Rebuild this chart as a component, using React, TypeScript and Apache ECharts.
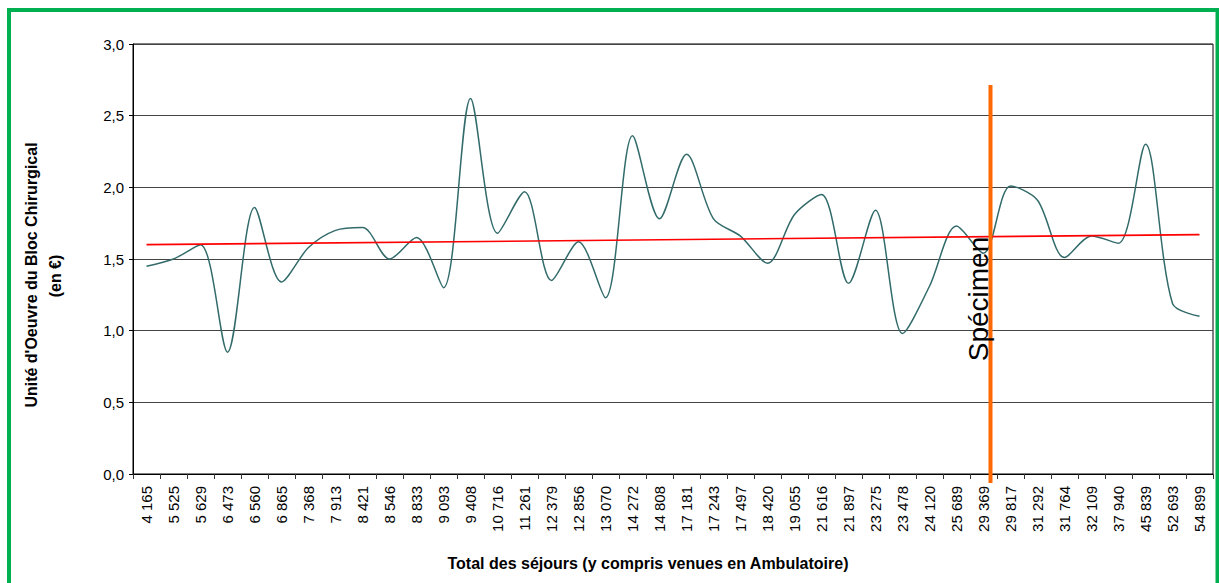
import React, { useEffect, useRef } from "react";
import * as echarts from "echarts";

const categories = [
  "4 165", "5 525", "5 629", "6 473", "6 560", "6 865", "7 368", "7 913", "8 421", "8 546",
  "8 833", "9 093", "9 408", "10 716", "11 261", "12 379", "12 856", "13 070", "14 272", "14 808",
  "17 181", "17 243", "17 497", "18 420", "19 055", "21 616", "21 897", "23 275", "23 478", "24 120",
  "25 689", "29 369", "29 817", "31 292", "31 764", "32 109", "37 940", "45 839", "52 693", "54 899",
];

const uoValues = [
  1.45, 1.5, 1.6, 0.85, 1.86, 1.34, 1.58, 1.7, 1.72, 1.5,
  1.65, 1.3, 2.62, 1.68, 1.97, 1.35, 1.62, 1.23, 2.36, 1.78,
  2.23, 1.78, 1.66, 1.47, 1.81, 1.95, 1.33, 1.84, 0.98, 1.31,
  1.73, 1.54, 2.01, 1.91, 1.51, 1.66, 1.61, 2.3, 1.19, 1.1,
];

const trendStart = 1.6;
const trendEnd = 1.67;

const yTicks = { min: 0, max: 3, interval: 0.5 };

const FONT = "'Liberation Sans', Arial, sans-serif";

export default function App() {
  const ref = useRef<HTMLDivElement>(null);
  useEffect(() => {
    if (!ref.current) return;
    const chart = echarts.init(ref.current, undefined, { renderer: "svg" });
    chart.setOption({
      animation: false,
      backgroundColor: "#ffffff",
      textStyle: { fontFamily: FONT },
      grid: {
        left: 133,
        top: 44,
        right: 6,
        bottom: 109,
        show: true,
        borderColor: "#000",
        borderWidth: 1,
        backgroundColor: "transparent",
      },
      xAxis: {
        type: "category",
        data: categories,
        boundaryGap: true,
        axisLine: { lineStyle: { color: "#000", width: 1 } },
        axisTick: { show: true, interval: 0, length: 5, lineStyle: { color: "#333" } },
        axisLabel: {
          interval: 0,
          rotate: 90,
          margin: 12,
          fontSize: 15,
          color: "#000",
          fontFamily: FONT,
        },
        splitLine: { show: false },
      },
      yAxis: {
        type: "value",
        min: yTicks.min,
        max: yTicks.max,
        interval: yTicks.interval,
        axisLine: { show: true, lineStyle: { color: "#000", width: 1 } },
        axisTick: { show: true, length: 4, lineStyle: { color: "#000" } },
        axisLabel: {
          fontSize: 15,
          color: "#000",
          margin: 9,
          fontFamily: FONT,
          formatter: (v: number) => v.toFixed(1).replace(".", ","),
        },
        splitLine: { show: true, lineStyle: { color: "#444", width: 1 } },
      },
      series: [
        {
          type: "line",
          data: uoValues,
          smooth: 0.3,
          showSymbol: false,
          symbol: "none",
          lineStyle: { color: "#336b6b", width: 1.5 },
          z: 3,
        },
        {
          type: "line",
          data: [
            [categories[0], trendStart],
            [categories[categories.length - 1], trendEnd],
          ],
          showSymbol: false,
          symbol: "none",
          lineStyle: { color: "#ff0000", width: 1.6 },
          z: 4,
        },
      ],
      graphic: [
        {
          type: "rect",
          shape: { x: 9, y: 10, width: 1208.5, height: 700 },
          style: { fill: "none", stroke: "#00b050", lineWidth: 4 },
          z: 100,
        },
        {
          type: "line",
          shape: { x1: 990.5, y1: 85, x2: 990.5, y2: 483 },
          style: { stroke: "#ff6a00", lineWidth: 4 },
          z: 50,
        },
        {
          type: "text",
          x: 978.5,
          y: 299,
          rotation: Math.PI / 2,
          style: {
            text: "Spécimen",
            fontSize: 28,
            fontFamily: FONT,
            fill: "#000",
            align: "center",
            verticalAlign: "middle",
          },
          z: 51,
        },
        {
          type: "text",
          x: 31,
          y: 275,
          rotation: Math.PI / 2,
          style: {
            text: "Unité d'Oeuvre du Bloc Chirurgical",
            fontSize: 16,
            fontWeight: "bold",
            fontFamily: FONT,
            fill: "#000",
            align: "center",
            verticalAlign: "middle",
          },
        },
        {
          type: "text",
          x: 55,
          y: 276,
          rotation: Math.PI / 2,
          style: {
            text: "(en €)",
            fontSize: 16,
            fontWeight: "bold",
            fontFamily: FONT,
            fill: "#000",
            align: "center",
            verticalAlign: "middle",
          },
        },
        {
          type: "text",
          x: 648,
          y: 563,
          style: {
            text: "Total des séjours (y compris venues en Ambulatoire)",
            fontSize: 16,
            fontWeight: "bold",
            fontFamily: FONT,
            fill: "#000",
            align: "center",
            verticalAlign: "middle",
          },
        },
      ],
    });
    return () => chart.dispose();
  }, []);
  return (
    <div
      ref={ref}
      style={{ position: "fixed", left: 0, top: 0, width: 1219, height: 583 }}
    />
  );
}
